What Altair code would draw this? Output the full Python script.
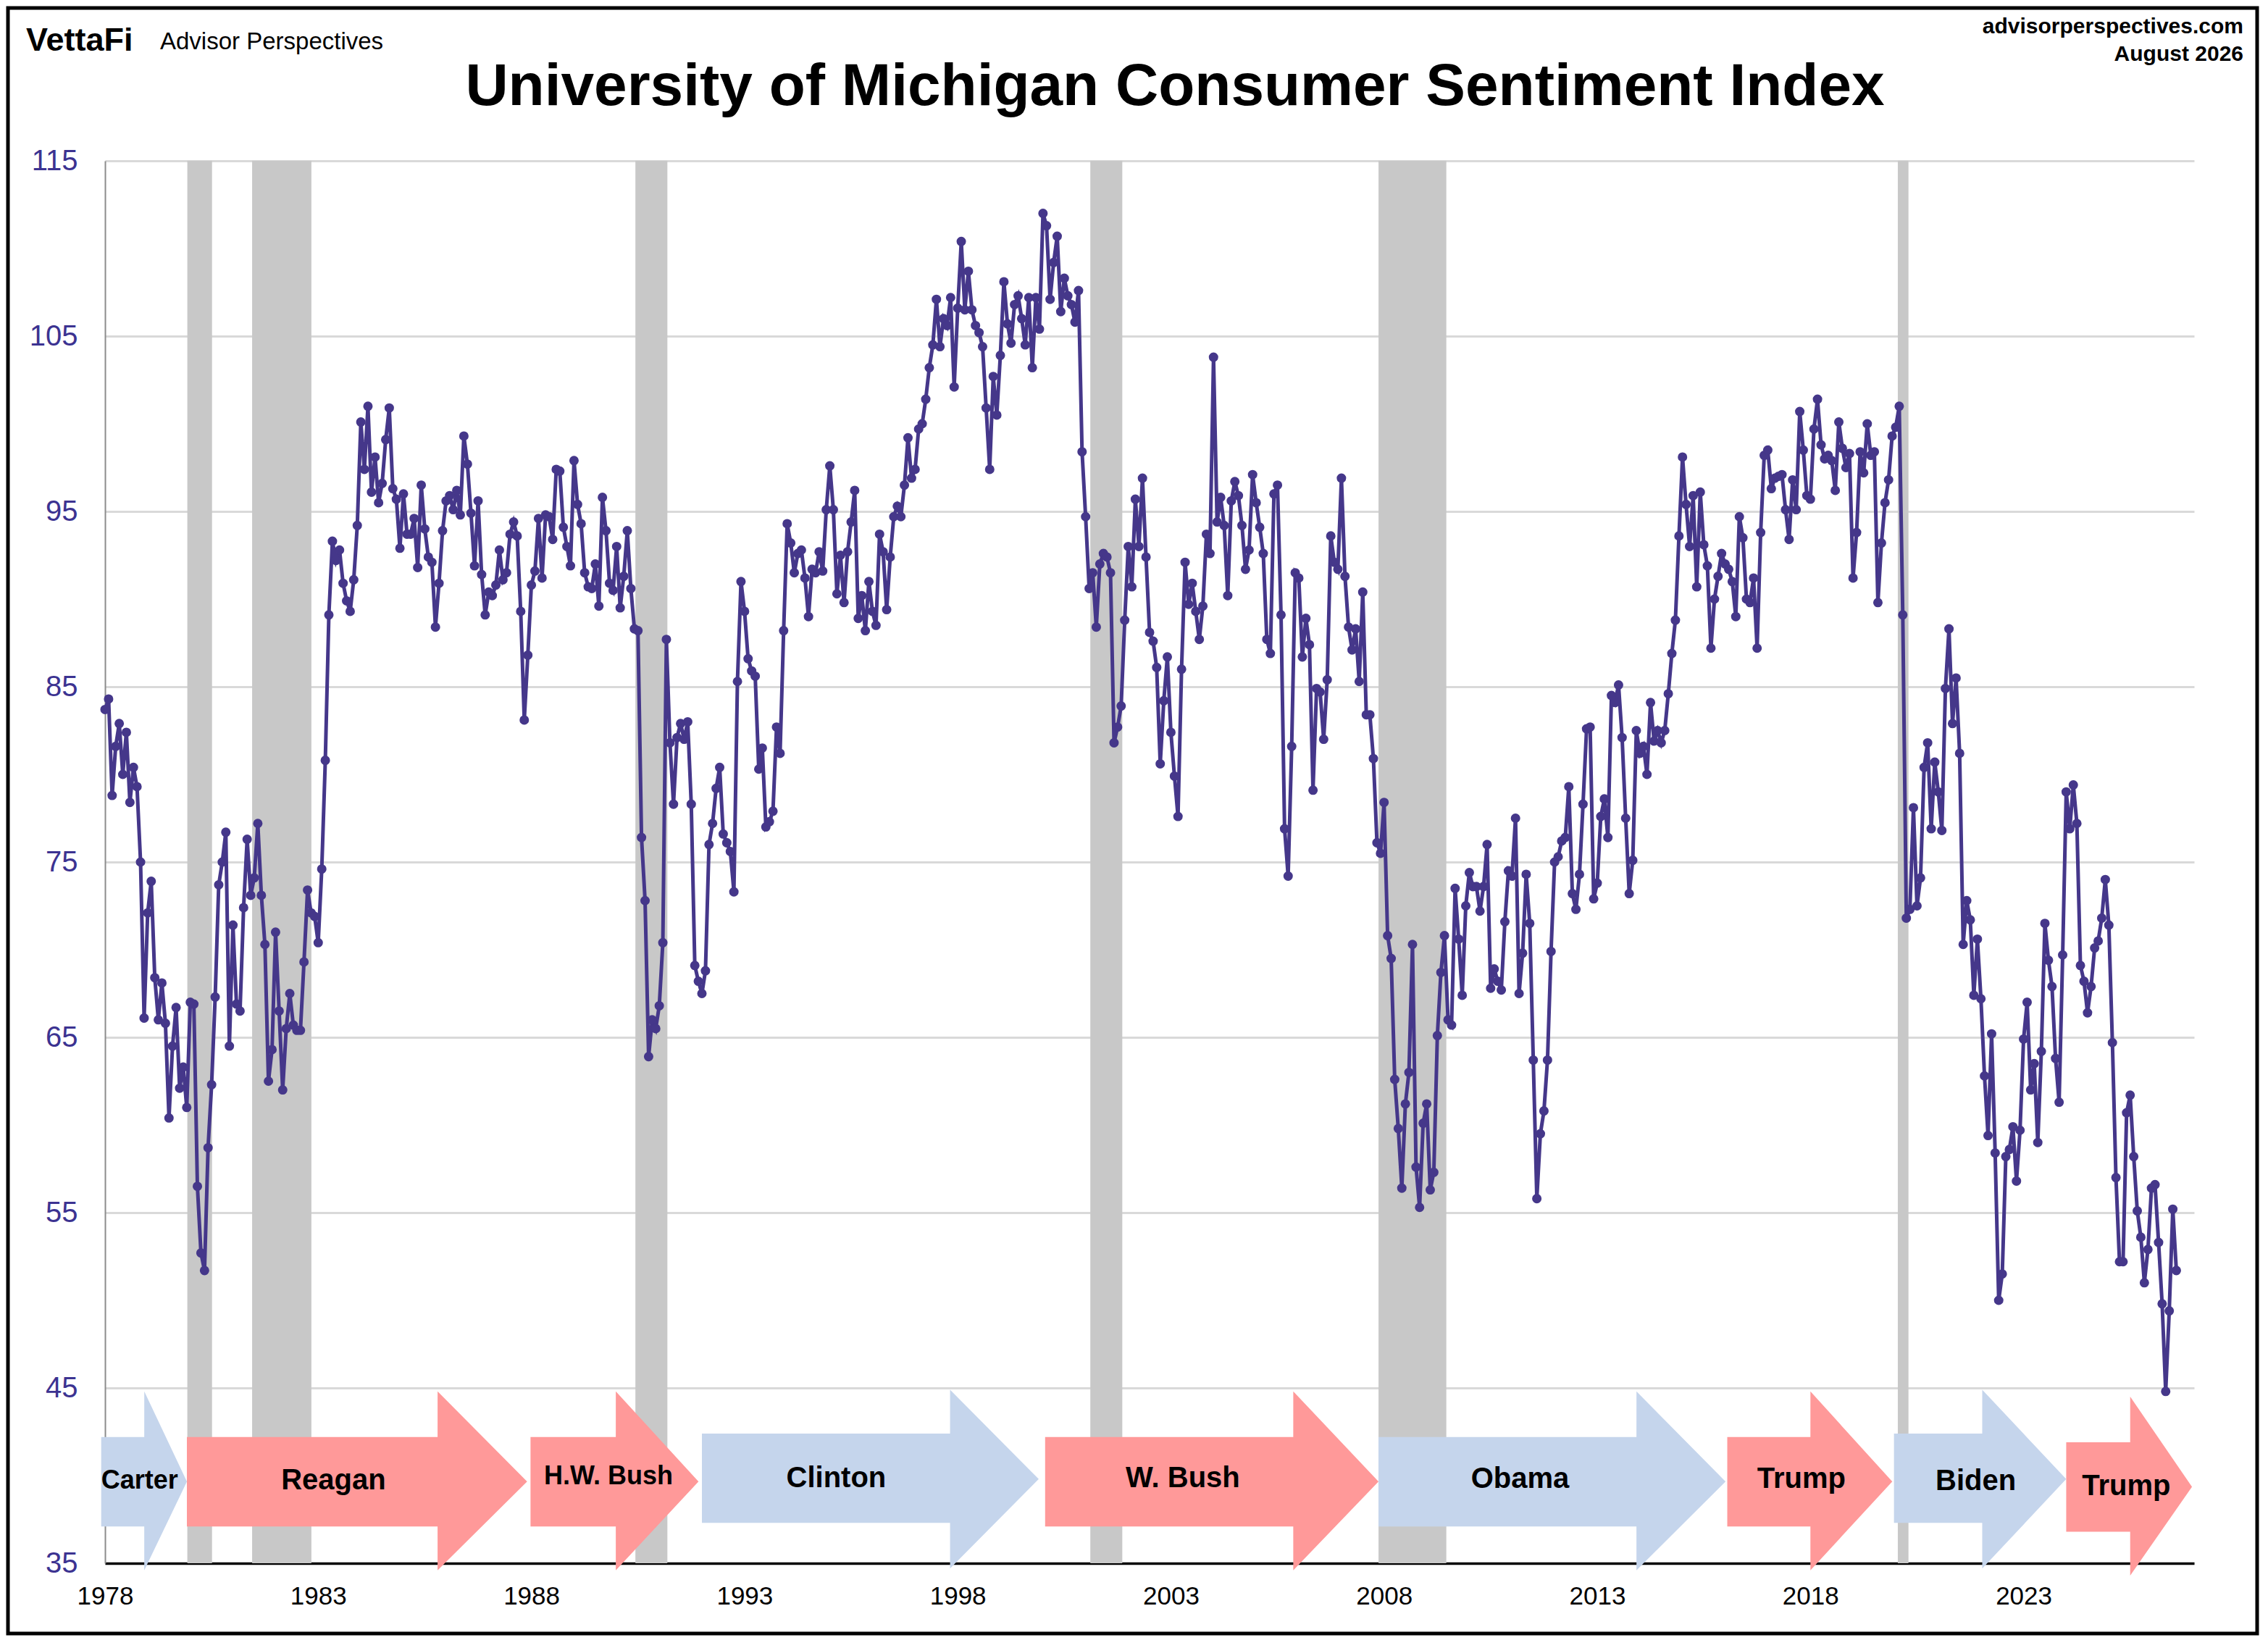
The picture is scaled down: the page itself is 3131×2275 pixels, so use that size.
import altair as alt
import pandas as pd

# ---------------- data (monthly index values) ----------------
v1978 = [83.7, 84.3, 78.8, 81.6, 82.9, 80.0, 82.4, 78.4, 80.4, 79.3, 75.0, 66.1]
v1979 = [72.1, 73.9, 68.4, 66.0, 68.1, 65.8, 60.4, 64.5, 66.7, 62.1, 63.3, 61.0]
v1980 = [67.0, 66.9, 56.5, 52.7, 51.7, 58.7, 62.3, 67.3, 73.7, 75.0, 76.7, 64.5]
v1981 = [71.4, 66.9, 66.5, 72.4, 76.3, 73.1, 74.1, 77.2, 73.1, 70.3, 62.5, 64.3]
v1982 = [71.0, 66.5, 62.0, 65.5, 67.5, 65.7, 65.4, 65.4, 69.3, 73.4, 72.1, 71.9]
v1983 = [70.4, 74.6, 80.8, 89.1, 93.3, 92.2, 92.8, 90.9, 89.9, 89.3, 91.1, 94.2]
v1984 = [100.1, 97.4, 101.0, 96.1, 98.1, 95.5, 96.6, 99.1, 100.9, 96.3, 95.7, 92.9]
v1985 = [96.0, 93.7, 93.7, 94.6, 91.8, 96.5, 94.0, 92.4, 92.1, 88.4, 90.9, 93.9]
v1986 = [95.6, 95.9, 95.1, 96.2, 94.8, 99.3, 97.7, 94.9, 91.9, 95.6, 91.4, 89.1]
v1987 = [90.4, 90.2, 90.8, 92.8, 91.1, 91.5, 93.7, 94.4, 93.6, 89.3, 83.1, 86.8]
v1988 = [90.8, 91.6, 94.6, 91.2, 94.8, 94.7, 93.4, 97.4, 97.3, 94.1, 93.0, 91.9]
v1989 = [97.9, 95.4, 94.3, 91.5, 90.7, 90.6, 92.0, 89.6, 95.8, 93.9, 90.9, 90.5]
v1990 = [93.0, 89.5, 91.3, 93.9, 90.6, 88.3, 88.2, 76.4, 72.8, 63.9, 66.0, 65.5]
v1991 = [66.8, 70.4, 87.7, 81.8, 78.3, 82.1, 82.9, 82.0, 83.0, 78.3, 69.1, 68.2]
v1992 = [67.5, 68.8, 76.0, 77.2, 79.2, 80.4, 76.6, 76.1, 75.6, 73.3, 85.3, 91.0]
v1993 = [89.3, 86.6, 85.9, 85.6, 80.3, 81.5, 77.0, 77.3, 77.9, 82.7, 81.2, 88.2]
v1994 = [94.3, 93.2, 91.5, 92.6, 92.8, 91.2, 89.0, 91.7, 91.5, 92.7, 91.6, 95.1]
v1995 = [97.6, 95.1, 90.3, 92.5, 89.8, 92.7, 94.4, 96.2, 88.9, 90.2, 88.2, 91.0]
v1996 = [89.3, 88.5, 93.7, 92.7, 89.4, 92.4, 94.7, 95.3, 94.7, 96.5, 99.2, 96.9]
v1997 = [97.4, 99.7, 100.0, 101.4, 103.2, 104.5, 107.1, 104.4, 106.0, 105.6, 107.2, 102.1]
v1998 = [106.6, 110.4, 106.5, 108.7, 106.5, 105.6, 105.2, 104.4, 100.9, 97.4, 102.7, 100.5]
v1999 = [103.9, 108.1, 105.7, 104.6, 106.8, 107.3, 106.0, 104.5, 107.2, 103.2, 107.2, 105.4]
v2000 = [112.0, 111.3, 107.1, 109.2, 110.7, 106.4, 108.3, 107.3, 106.8, 105.8, 107.6, 98.4]
v2001 = [94.7, 90.6, 91.5, 88.4, 92.0, 92.6, 92.4, 91.5, 81.8, 82.7, 83.9, 88.8]
v2002 = [93.0, 90.7, 95.7, 93.0, 96.9, 92.4, 88.1, 87.6, 86.1, 80.6, 84.2, 86.7]
v2003 = [82.4, 79.9, 77.6, 86.0, 92.1, 89.7, 90.9, 89.3, 87.7, 89.6, 93.7, 92.6]
v2004 = [103.8, 94.4, 95.8, 94.2, 90.2, 95.6, 96.7, 95.9, 94.2, 91.7, 92.8, 97.1]
v2005 = [95.5, 94.1, 92.6, 87.7, 86.9, 96.0, 96.5, 89.1, 76.9, 74.2, 81.6, 91.5]
v2006 = [91.2, 86.7, 88.9, 87.4, 79.1, 84.9, 84.7, 82.0, 85.4, 93.6, 92.1, 91.7]
v2007 = [96.9, 91.3, 88.4, 87.1, 88.3, 85.3, 90.4, 83.4, 83.4, 80.9, 76.1, 75.5]
v2008 = [78.4, 70.8, 69.5, 62.6, 59.8, 56.4, 61.2, 63.0, 70.3, 57.6, 55.3, 60.1]
v2009 = [61.2, 56.3, 57.3, 65.1, 68.7, 70.8, 66.0, 65.7, 73.5, 70.6, 67.4, 72.5]
v2010 = [74.4, 73.6, 73.6, 72.2, 73.6, 76.0, 67.8, 68.9, 68.2, 67.7, 71.6, 74.5]
v2011 = [74.2, 77.5, 67.5, 69.8, 74.3, 71.5, 63.7, 55.8, 59.5, 60.8, 63.7, 69.9]
v2012 = [75.0, 75.3, 76.2, 76.4, 79.3, 73.2, 72.3, 74.3, 78.3, 82.6, 82.7, 72.9]
v2013 = [73.8, 77.6, 78.6, 76.4, 84.5, 84.1, 85.1, 82.1, 77.5, 73.2, 75.1, 82.5]
v2014 = [81.2, 81.6, 80.0, 84.1, 81.9, 82.5, 81.8, 82.5, 84.6, 86.9, 88.8, 93.6]
v2015 = [98.1, 95.4, 93.0, 95.9, 90.7, 96.1, 93.1, 91.9, 87.2, 90.0, 91.3, 92.6]
v2016 = [92.0, 91.7, 91.0, 89.0, 94.7, 93.5, 90.0, 89.8, 91.2, 87.2, 93.8, 98.2]
v2017 = [98.5, 96.3, 96.9, 97.0, 97.1, 95.1, 93.4, 96.8, 95.1, 100.7, 98.5, 95.9]
v2018 = [95.7, 99.7, 101.4, 98.8, 98.0, 98.2, 97.9, 96.2, 100.1, 98.6, 97.5, 98.3]
v2019 = [91.2, 93.8, 98.4, 97.2, 100.0, 98.2, 98.4, 89.8, 93.2, 95.5, 96.8, 99.3]
v2020 = [99.8, 101.0, 89.1, 71.8, 72.3, 78.1, 72.5, 74.1, 80.4, 81.8, 76.9, 80.7]
v2021 = [79.0, 76.8, 84.9, 88.3, 82.9, 85.5, 81.2, 70.3, 72.8, 71.7, 67.4, 70.6]
v2022 = [67.2, 62.8, 59.4, 65.2, 58.4, 50.0, 51.5, 58.2, 58.6, 59.9, 56.8, 59.7]
v2023 = [64.9, 67.0, 62.0, 63.5, 59.0, 64.2, 71.5, 69.4, 67.9, 63.8, 61.3, 69.7]
v2024 = [79.0, 76.9, 79.4, 77.2, 69.1, 68.2, 66.4, 67.9, 70.1, 70.5, 71.8, 74.0]
v2025 = [71.4, 64.7, 57.0, 52.2, 52.2, 60.7, 61.7, 58.2, 55.1, 53.6, 51.0, 52.9]
v2026 = [56.4, 56.6, 53.3, 49.8, 44.8, 49.4, 55.2, 51.7]

# recessions (decimal years, start / end)
rec_start = [1979.93, 1981.45, 1990.44, 2001.11, 2007.87, 2020.05]
rec_end = [1980.51, 1982.84, 1991.19, 2001.86, 2009.46, 2020.30]

# presidential terms shown as arrows
pres_name = ["Carter", "Reagan", "H.W. Bush", "Clinton", "W. Bush", "Obama", "Trump", "Biden", "Trump"]
pres_party = ["D", "R", "R", "D", "R", "D", "R", "D", "R"]
pres_start = [1977.91, 1979.92, 1987.98, 1992.00, 2000.05, 2007.87, 2016.05, 2019.96, 2024.00]
pres_end = [1979.92, 1987.90, 1991.92, 1999.90, 2007.87, 2016.01, 2019.92, 2024.00, 2026.95]
pres_label_x = [1978.81, 1983.36, 1989.81, 1995.15, 2003.28, 2011.19, 2017.79, 2021.88, 2025.41]

x_ticks = list(range(1978, 2024, 5))
y_ticks = list(range(35, 116, 10))

# ---------------- styles / geometry ----------------
FONT = "Liberation Sans"
W, H = 2884, 1936
LINE_C = "#45378A"
BLUE = "#C5D5EC"
PINK = "#FF9999"
head_len = [1.0, 2.1, 1.94, 2.08, 2.0, 2.09, 1.92, 1.97, 1.45]
body_lo = [37.1, 37.1, 37.1, 37.3, 37.1, 37.1, 37.1, 37.3, 36.8]
body_hi = [42.2, 42.2, 42.2, 42.4, 42.2, 42.2, 42.2, 42.4, 41.9]
head_lo = [34.6, 34.6, 34.6, 34.7, 34.6, 34.6, 34.6, 34.7, 34.3]
head_hi = [44.8, 44.8, 44.8, 44.9, 44.8, 44.8, 44.8, 44.9, 44.5]
tip_y = [39.66, 39.66, 39.66, 39.8, 39.66, 39.66, 39.66, 39.8, 39.36]
label_y = [39.7, 39.7, 39.94, 39.84, 39.84, 39.8, 39.8, 39.67, 39.4]
label_fs = [36, 40, 36, 40, 40, 40, 40, 40, 40]

# ---------------- build tables ----------------
rows = []
all_years = [v1978, v1979, v1980, v1981, v1982, v1983, v1984, v1985, v1986, v1987,
             v1988, v1989, v1990, v1991, v1992, v1993, v1994, v1995, v1996, v1997,
             v1998, v1999, v2000, v2001, v2002, v2003, v2004, v2005, v2006, v2007,
             v2008, v2009, v2010, v2011, v2012, v2013, v2014, v2015, v2016, v2017,
             v2018, v2019, v2020, v2021, v2022, v2023, v2024, v2025, v2026]
for i, vals in enumerate(all_years):
    for m, v in enumerate(vals):
        rows.append({"t": 1978 + i + m / 12.0, "v": v})
df = pd.DataFrame(rows)

rec_df = pd.DataFrame({"s": rec_start, "e": rec_end})

arr_rows = []
for i in range(len(pres_name)):
    s, e = pres_start[i], pres_end[i]
    hb = e - head_len[i]
    arr_rows += [
        {"id": i, "party": pres_party[i], "x": s, "lo": body_lo[i], "hi": body_hi[i]},
        {"id": i, "party": pres_party[i], "x": hb, "lo": body_lo[i], "hi": body_hi[i]},
        {"id": i, "party": pres_party[i], "x": hb + 0.0005, "lo": head_lo[i], "hi": head_hi[i]},
        {"id": i, "party": pres_party[i], "x": e, "lo": tip_y[i], "hi": tip_y[i]},
    ]
arr_df = pd.DataFrame(arr_rows)
lab_df = pd.DataFrame({"name": pres_name, "x": pres_label_x, "y": label_y, "fs": label_fs})

xscale = alt.Scale(domain=[1978, 2027], nice=False, zero=False)
yscale = alt.Scale(domain=[35, 115], nice=False, zero=False)

xaxis = alt.Axis(values=x_ticks, format="d", grid=False, ticks=False, title=None,
                 labelFont=FONT, labelFontSize=35, labelColor="black", labelPadding=28,
                 domainColor="black", domainWidth=3.5, labelFlush=False, labelOverlap=False,
                 zindex=0)
yaxis = alt.Axis(values=y_ticks, grid=True, gridColor="#D9D9D9", gridWidth=3, ticks=False,
                 title=None, labelFont=FONT, labelFontSize=40, labelColor="#3C3391",
                 labelPadding=38, domainColor="#8C8C8C", domainWidth=2, labelFlush=False,
                 zindex=0)


def X(field):
    return alt.X(field, scale=xscale, axis=xaxis, title=None)


def Y(field, **kw):
    return alt.Y(field, scale=yscale, axis=yaxis, title=None, **kw)


rec = alt.Chart(rec_df).mark_rect(color="#C8C8C8").encode(
    x=X("s:Q"), x2="e:Q",
    y=alt.value(0), y2=alt.value(H))

arrows = alt.Chart(arr_df).mark_area(interpolate="linear", opacity=1).encode(
    x=X("x:Q"),
    y=Y("lo:Q", stack=None), y2="hi:Q",
    color=alt.Color("party:N", scale=alt.Scale(domain=["D", "R"], range=[BLUE, PINK]), legend=None),
    detail="id:N")

labels = alt.Chart(lab_df).mark_text(font=FONT, fontWeight="bold", color="black",
                                     align="center", baseline="middle").encode(
    x=X("x:Q"),
    y=Y("y:Q"),
    text="name:N",
    size=alt.Size("fs:Q", scale=None, legend=None))

base = alt.Chart(df).encode(x=X("t:Q"), y=Y("v:Q"))
line = base.mark_line(color=LINE_C, strokeWidth=5)
pts = base.mark_circle(color=LINE_C, size=170, opacity=1)


def txt(s, x, y, size, weight="normal", align="left"):
    return alt.Chart(pd.DataFrame({"s": [s]})).mark_text(
        font=FONT, fontSize=size, fontWeight=weight, align=align,
        baseline="alphabetic", color="black").encode(
        text="s:N", x=alt.value(x), y=alt.value(y))


title = txt("University of Michigan Consumer Sentiment Index", 1477, -77, 82, "bold", "center")
logo = txt("VettaFi", -109, -152, 45, "bold")
logo2 = txt("Advisor Perspectives", 76, -154, 33)
site = txt("advisorperspectives.com", 2952, -176, 30, "bold", "right")
date = txt("August 2026", 2952, -138, 30, "bold", "right")

border = alt.Chart(pd.DataFrame({"a": [0]})).mark_rect(
    fillOpacity=0, stroke="black", strokeWidth=5).encode(
    x=alt.value(-134), x2=alt.value(W + 87), y=alt.value(-211), y2=alt.value(H + 97))

chart = alt.layer(rec, arrows, labels, line, pts, title, logo, logo2, site, date, border).properties(
    width=W, height=H,
    padding={"left": 137, "top": 214, "right": 90, "bottom": 100},
    autosize=alt.AutoSizeParams(type="none"),
    background="white",
).configure_view(stroke=None)

chart.save("out.html", embed_options={"renderer": "svg", "actions": False})
